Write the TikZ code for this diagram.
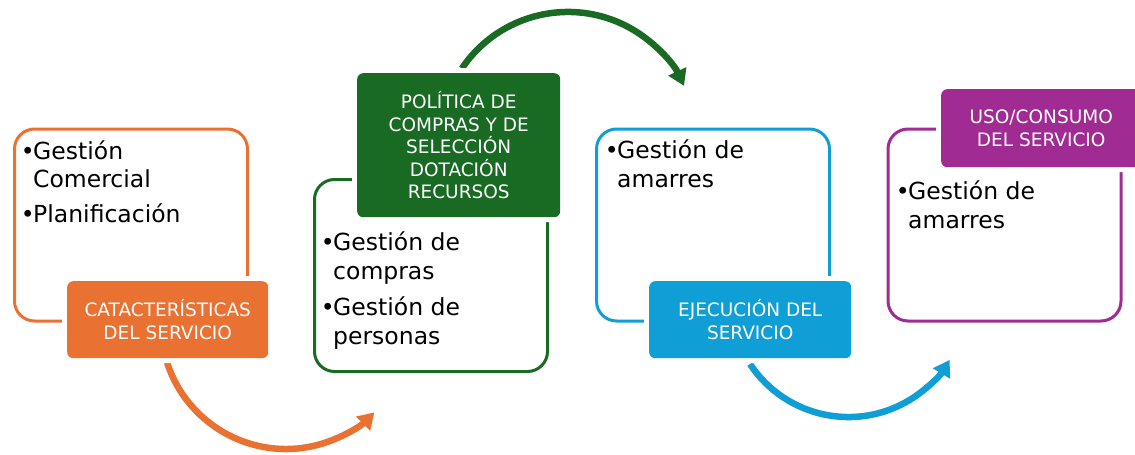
\documentclass[tikz,border=0pt]{standalone}
\usepackage{fontspec}
\setmainfont{DejaVu Sans}
\usetikzlibrary{arrows.meta}
\definecolor{cor}{HTML}{E97132}
\definecolor{cgr}{HTML}{196B24}
\definecolor{cbl}{HTML}{0F9ED5}
\definecolor{cpu}{HTML}{A02B93}
\tikzset{
  outbox/.style={draw=#1, line width=3pt, rounded corners=20pt, anchor=north west,
    inner sep=0pt, minimum width=233pt, minimum height=192pt},
  tagbox/.style={fill=#1, rounded corners=6pt, text=white, align=center, anchor=north west,
    inner sep=0pt, font=\fontsize{18.5}{22.5}\selectfont,
    preaction={draw=white, line width=10pt}},
  bodytxt/.style={anchor=base west, inner sep=0pt, font=\fontsize{23.5}{28}\selectfont},
  flow/.style={draw=#1, line width=6.5pt, -{Triangle[length=16pt,width=19pt]}}
}
\newcommand{\bul}{\llap{•\hspace{-1.5pt}}}
\begin{document}
\begin{tikzpicture}[x=1pt,y=1pt]
\useasboundingbox (0,0) rectangle (1135,-455);
% outline boxes
\node[outbox=cor] (b1) at (13,-127.5) {};
\node[outbox=cgr] (b2) at (313,-178) {};
\node[outbox=cbl] (b3) at (595,-127.5) {};
\node[outbox=cpu] (b4) at (886.5,-127.5) {};
% arrows
\coordinate (a1s) at (167.1,-362.6);
\draw[flow=cor] (a1s) arc[start angle=198, end angle=315, radius=125pt] coordinate (a1e);
\coordinate (a2s) at (461.9,-68.4);
\draw[flow=cgr] (a2s) arc[start angle=146, end angle=25, radius=128pt] coordinate (a2e);
\coordinate (a3s) at (750,-364);
\draw[flow=cbl] (a3s) arc[start angle=213.4, end angle=329, radius=118pt] coordinate (a3e);
% tags
\node[tagbox=cor, minimum width=201pt, minimum height=77pt] (t1) at (67,-281)
  {CATACTERÍSTICAS\\DEL SERVICIO};
\node[tagbox=cgr, minimum width=203pt, minimum height=144pt] (t2) at (357,-73)
  {POLÍTICA DE\\COMPRAS Y DE\\SELECCIÓN\\DOTACIÓN\\RECURSOS};
\node[tagbox=cbl, minimum width=202pt, minimum height=77pt] (t3) at (649,-281)
  {EJECUCIÓN DEL\\SERVICIO};
\node[tagbox=cpu, minimum width=200pt, minimum height=78pt] (t4) at (941,-89)
  {USO/CONSUMO\\DEL SERVICIO};
% body texts
\node[bodytxt] (o1) at (33,-159) {\bul Gestión};
\node[bodytxt] (o2) at (33,-187.5) {Comercial};
\node[bodytxt] (o3) at (33,-222.5) {\bul Planificación};
\node[bodytxt] (g1) at (333,-250) {\bul Gestión de};
\node[bodytxt] (g2) at (333,-279) {compras};
\node[bodytxt] (g3) at (333,-315) {\bul Gestión de};
\node[bodytxt] (g4) at (333,-344) {personas};
\node[bodytxt] (c1) at (617,-158) {\bul Gestión de};
\node[bodytxt] (c2) at (617,-187) {amarres};
\node[bodytxt] (p1) at (908,-199) {\bul Gestión de};
\node[bodytxt] (p2) at (908,-228) {amarres};
\end{tikzpicture}
\end{document}
